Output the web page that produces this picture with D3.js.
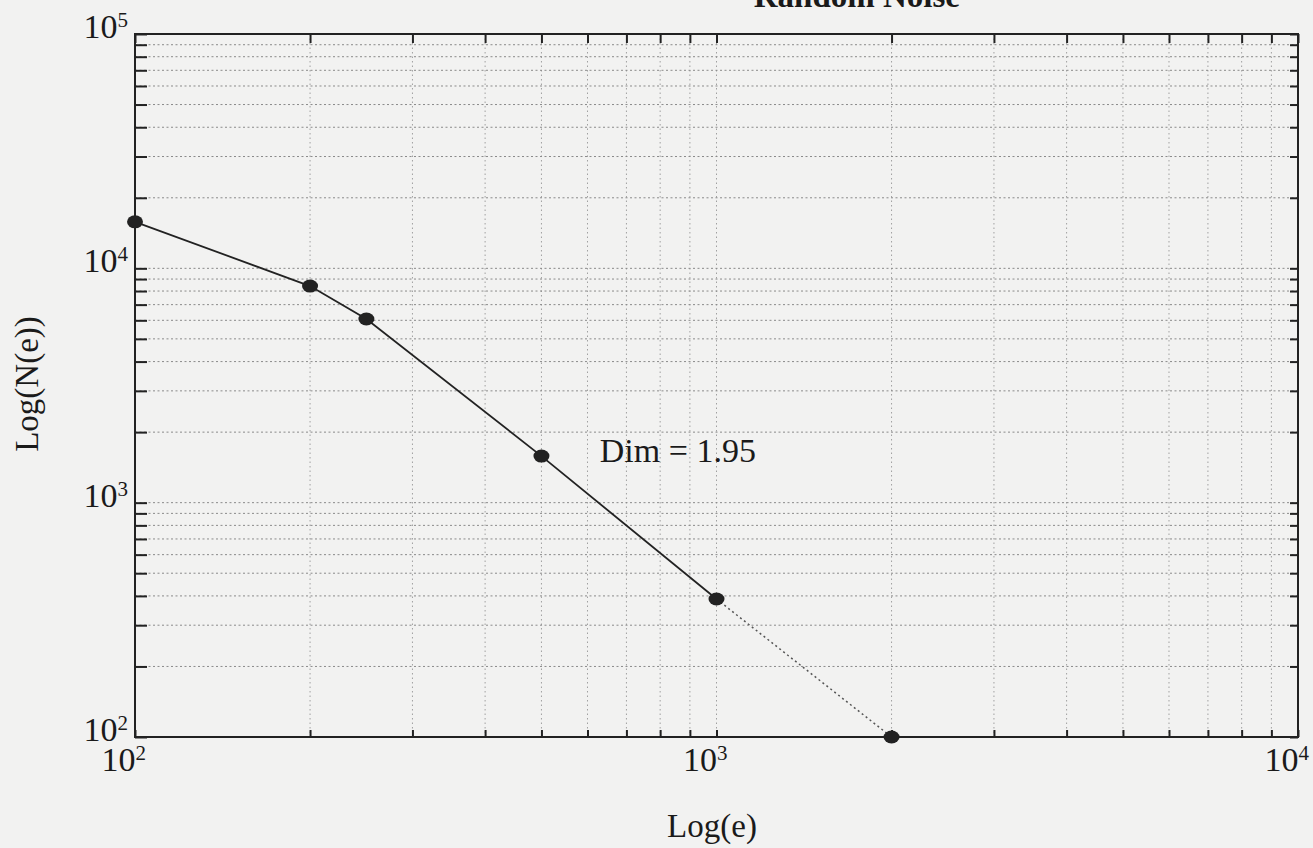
<!DOCTYPE html>
<html>
<head>
<meta charset="utf-8">
<script src="https://cdn.jsdelivr.net/npm/d3@7"></script>
<style>
  html, body { margin: 0; padding: 0; background: #f2f2f1; }
  svg { display: block; }
  text { font-family: "Liberation Serif", "DejaVu Serif", serif; fill: #1a1a1a; }
</style>
</head>
<body>
<svg id="chart" width="1313" height="848"></svg>
<script>
// ---- data ----
const xValues = [100, 200, 250, 500, 1000, 2000];
const yValues = [15800, 8400, 6080, 1580, 388, 100];
const xTickExponents = [2, 3, 4];
const yTickExponents = [2, 3, 4, 5];
const titleText = "Random Noise";
const xLabel = "Log(e)";
const yLabel = "Log(N(e))";
const annotation = "Dim =  1.95";
const annotationAt = [630, 1490];

// ---- layout ----
const W = 1313, H = 848;
const L = 135, R = 1298, T = 34, B = 737;
const svg = d3.select("#chart");
svg.append("rect").attr("width", W).attr("height", H).attr("fill", "#f2f2f1");

const x = d3.scaleLog().domain([100, 10000]).range([L, R]);
const y = d3.scaleLog().domain([100, 100000]).range([B, T]);

const xAll = x.ticks();
const yAll = y.ticks();

// grid
const grid = svg.append("g").attr("fill", "none");
xAll.forEach(v => {
  if (v === 100 || v === 10000) return;
  grid.append("line").attr("x1", x(v)).attr("x2", x(v)).attr("y1", T).attr("y2", B)
    .attr("stroke", "#a0a0a0").attr("stroke-width", 1).attr("stroke-dasharray", "1.5,3");
});
yAll.forEach(v => {
  if (v === 100 || v === 100000) return;
  grid.append("line").attr("x1", L).attr("x2", R).attr("y1", y(v)).attr("y2", y(v))
    .attr("stroke", "#8a8a8a").attr("stroke-width", 1).attr("stroke-dasharray", "2,2.5");
});

// axes with inward ticks
function styleAxis(g) {
  g.select(".domain").remove();
  g.selectAll(".tick line").attr("stroke", "#222").attr("stroke-width", 2);
  g.selectAll(".tick text").remove();
}
svg.append("g").attr("transform", `translate(0,${B})`)
  .call(d3.axisBottom(x).tickValues(xAll).tickSize(-7).tickFormat(""))
  .call(styleAxis);
svg.append("g").attr("transform", `translate(0,${T})`)
  .call(d3.axisTop(x).tickValues(xAll).tickSize(-9).tickFormat(""))
  .call(styleAxis);
svg.append("g").attr("transform", `translate(${L},0)`)
  .call(d3.axisLeft(y).tickValues(yAll).tickSize(-12).tickFormat(""))
  .call(styleAxis);
svg.append("g").attr("transform", `translate(${R},0)`)
  .call(d3.axisRight(y).tickValues(yAll).tickSize(-8).tickFormat(""))
  .call(styleAxis);

// frame
svg.append("rect").attr("x", L).attr("y", T).attr("width", R - L).attr("height", B - T)
  .attr("fill", "none").attr("stroke", "#222").attr("stroke-width", 2);

// tick labels
function powLabel(sel, base, exp) {
  sel.append("tspan").text(base);
  sel.append("tspan").attr("dy", -11).attr("font-size", 21).text(exp);
}
xTickExponents.forEach(e => {
  const t = svg.append("text").attr("x", x(Math.pow(10, e)) + 11).attr("y", 771)
    .attr("text-anchor", "end").attr("font-size", 34);
  powLabel(t, "10", e);
});
yTickExponents.forEach(e => {
  const t = svg.append("text").attr("x", 128).attr("y", y(Math.pow(10, e)) + 4)
    .attr("text-anchor", "end").attr("font-size", 34);
  powLabel(t, "10", e);
});

// axis titles
svg.append("text").attr("x", 712).attr("y", 837).attr("text-anchor", "middle")
  .attr("font-size", 33).text(xLabel);
svg.append("text").attr("transform", "translate(38,384) rotate(-90)")
  .attr("text-anchor", "middle").attr("font-size", 33).text(yLabel);

// title (clipped at top, as in the reference)
svg.append("text").attr("x", 960).attr("y", 7).attr("text-anchor", "end")
  .attr("font-size", 33).attr("font-weight", "bold").text(titleText);

// data line
const pts = xValues.map((v, i) => [v, yValues[i]]);
const line = d3.line().x(d => x(d[0])).y(d => y(d[1]));
svg.append("path").datum(pts.slice(0, 5)).attr("d", line)
  .attr("fill", "none").attr("stroke", "#222").attr("stroke-width", 1.8);
svg.append("path").datum(pts.slice(4)).attr("d", line)
  .attr("fill", "none").attr("stroke", "#555").attr("stroke-width", 1.5)
  .attr("stroke-dasharray", "2,3");

// markers
svg.append("g").selectAll("ellipse").data(pts).join("ellipse")
  .attr("cx", d => x(d[0])).attr("cy", d => y(d[1]))
  .attr("rx", 8).attr("ry", 6.5).attr("fill", "#222");

// annotation
svg.append("text").attr("x", x(annotationAt[0])).attr("y", y(annotationAt[1]))
  .attr("font-size", 34).text(annotation);
</script>
</body>
</html>
